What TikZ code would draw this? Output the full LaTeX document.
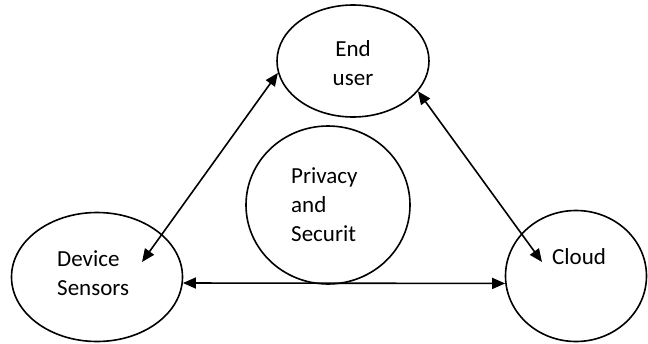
\documentclass[tikz,border=0pt]{standalone}
\usepackage{fontspec}
\setmainfont{Carlito}
\usetikzlibrary{arrows.meta,shapes.geometric}
\begin{document}
\begin{tikzpicture}[x=1pt,y=-1pt,
  ell/.style={draw=black, line width=1.6pt, shape=ellipse, inner sep=0pt},
  lbl/.style={font=\fontsize{23}{29}\selectfont, inner sep=0pt},
  conn/.style={line width=1.6pt, {Triangle[length=13pt,width=11pt]}-{Triangle[length=13pt,width=11pt]}}]
\useasboundingbox (0,0) rectangle (648,343);
\node[ell, minimum width=152pt, minimum height=112pt] (user) at (353,61) {};
\node[ell, minimum width=171pt, minimum height=129pt] (dev) at (97,277) {};
\node[ell, minimum width=141pt, minimum height=131pt] (cloud) at (576,276) {};
\node[ell, minimum width=164pt, minimum height=158pt] (priv) at (328,205) {};
\node[lbl, align=center] (usert) at (353,63) {End\\user};
\node[lbl, align=left, anchor=west] (devt) at (57,273) {Device\\Sensors};
\node[lbl, anchor=west] (cloudt) at (552,257) {Cloud};
\node[lbl, align=left, anchor=west] (privt) at (291,205) {Privacy\\and\\Securit};
\coordinate (devin) at (142,262);
\coordinate (cloudin) at (542,262);
\draw[conn] (devin) -- (user.189);
\draw[conn] (user.335) -- (cloudin);
\draw[conn] (dev.-4) -- (cloud.186);
\end{tikzpicture}
\end{document}
